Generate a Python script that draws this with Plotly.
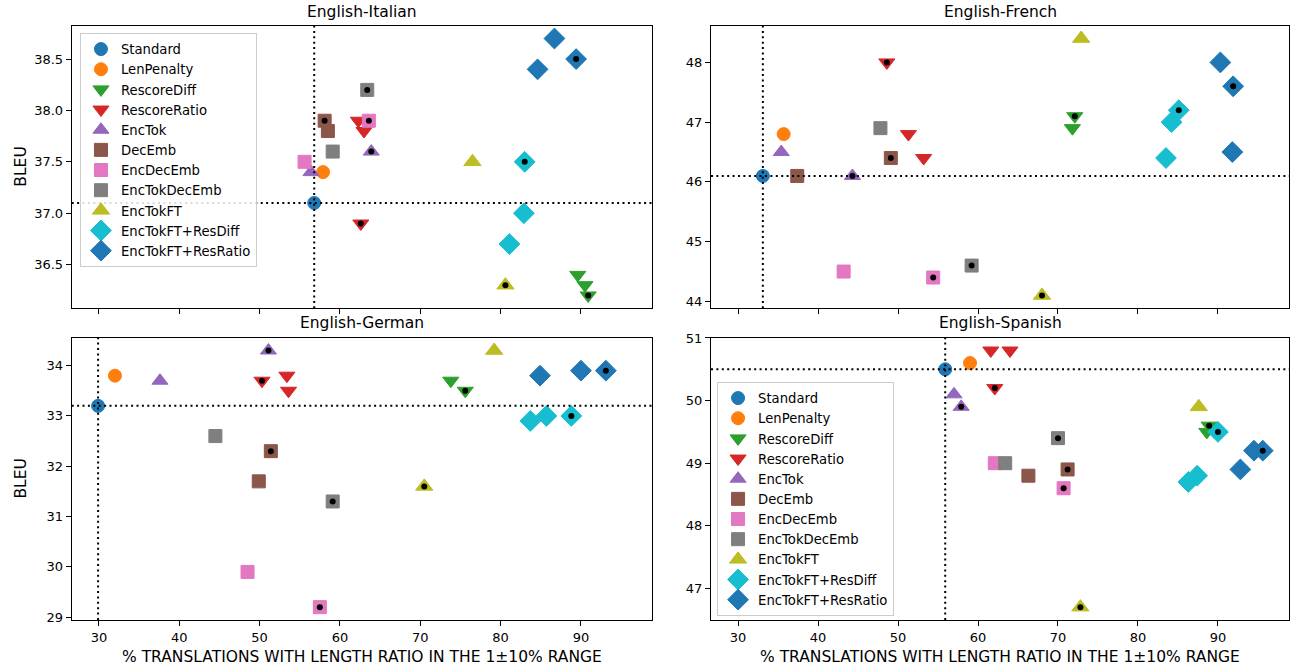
import plotly.graph_objects as go

# ---------------- data ----------------
methods = ["Standard", "LenPenalty", "RescoreDiff", "RescoreRatio", "EncTok", "DecEmb",
           "EncDecEmb", "EncTokDecEmb", "EncTokFT", "EncTokFT+ResDiff", "EncTokFT+ResRatio"]
colors = ["#1f77b4", "#ff7f0e", "#2ca02c", "#d62728", "#9467bd", "#8c564b",
          "#e377c2", "#7f7f7f", "#bcbd22", "#17becf", "#1f77b4"]
symbols = ["circle", "circle", "triangle-down", "triangle-down", "triangle-up", "square",
           "square", "square", "triangle-up", "diamond", "diamond"]

titles = ["English-Italian", "English-French", "English-German", "English-Spanish"]
x_label = "% TRANSLATIONS WITH LENGTH RATIO IN THE 1±10% RANGE"
y_label = "BLEU"
x_ticks = [30, 40, 50, 60, 70, 80, 90]

# English-Italian
it_method = ["Standard", "LenPenalty", "RescoreDiff", "RescoreDiff", "RescoreDiff",
             "RescoreRatio", "RescoreRatio", "RescoreRatio", "EncTok", "EncTok",
             "DecEmb", "DecEmb", "EncDecEmb", "EncDecEmb", "EncTokDecEmb", "EncTokDecEmb",
             "EncTokFT", "EncTokFT", "EncTokFT+ResDiff", "EncTokFT+ResDiff", "EncTokFT+ResDiff",
             "EncTokFT+ResRatio", "EncTokFT+ResRatio", "EncTokFT+ResRatio"]
it_x = [56.8, 57.9, 89.6, 90.5, 90.9, 62.3, 63.0, 62.6, 56.4, 63.9, 58.1, 58.5, 55.6, 63.6,
        59.1, 63.4, 76.5, 80.6, 83.0, 82.9, 81.1, 86.7, 89.4, 84.6]
it_y = [37.1, 37.4, 36.4, 36.3, 36.2, 37.9, 37.8, 36.9, 37.4, 37.6, 37.9, 37.8, 37.5, 37.9,
        37.6, 38.2, 37.5, 36.3, 37.5, 37.0, 36.7, 38.7, 38.5, 38.4]
it_best = [0, 0, 0, 0, 1, 0, 0, 1, 0, 1, 1, 0, 0, 1, 0, 1, 0, 1, 1, 0, 0, 0, 1, 0]

# English-French
fr_method = ["Standard", "LenPenalty", "RescoreDiff", "RescoreDiff",
             "RescoreRatio", "RescoreRatio", "RescoreRatio", "EncTok", "EncTok",
             "DecEmb", "DecEmb", "EncDecEmb", "EncDecEmb", "EncTokDecEmb", "EncTokDecEmb",
             "EncTokFT", "EncTokFT", "EncTokFT+ResDiff", "EncTokFT+ResDiff", "EncTokFT+ResDiff",
             "EncTokFT+ResRatio", "EncTokFT+ResRatio", "EncTokFT+ResRatio"]
fr_x = [33.1, 35.7, 72.1, 71.8, 48.6, 51.3, 53.2, 35.4, 44.3, 37.4, 49.1, 43.2, 54.4,
        47.8, 59.2, 72.9, 68.0, 85.1, 84.2, 83.5, 90.3, 91.9, 91.8]
fr_y = [46.1, 46.8, 47.1, 46.9, 48.0, 46.8, 46.4, 46.5, 46.1, 46.1, 46.4, 44.5, 44.4,
        46.9, 44.6, 48.4, 44.1, 47.2, 47.0, 46.4, 48.0, 47.6, 46.5]
fr_best = [0, 0, 1, 0, 1, 0, 0, 0, 1, 0, 1, 0, 1, 0, 1, 0, 1, 1, 0, 0, 0, 1, 0]

# English-German
de_method = ["Standard", "LenPenalty", "RescoreDiff", "RescoreDiff",
             "RescoreRatio", "RescoreRatio", "RescoreRatio", "EncTok", "EncTok",
             "DecEmb", "DecEmb", "EncDecEmb", "EncDecEmb", "EncTokDecEmb", "EncTokDecEmb",
             "EncTokFT", "EncTokFT", "EncTokFT+ResDiff", "EncTokFT+ResDiff", "EncTokFT+ResDiff",
             "EncTokFT+ResRatio", "EncTokFT+ResRatio", "EncTokFT+ResRatio"]
de_x = [29.9, 32.0, 73.8, 75.6, 50.3, 53.4, 53.6, 37.6, 51.1, 51.4, 49.9, 48.5, 57.5,
        44.5, 59.1, 79.2, 70.5, 83.7, 85.7, 88.8, 84.9, 90.0, 93.1]
de_y = [33.2, 33.8, 33.7, 33.5, 33.7, 33.8, 33.5, 33.7, 34.3, 32.3, 31.7, 29.9, 29.2,
        32.6, 31.3, 34.3, 31.6, 32.9, 33.0, 33.0, 33.8, 33.9, 33.9]
de_best = [0, 0, 0, 1, 1, 0, 0, 0, 1, 1, 0, 0, 1, 0, 1, 0, 1, 0, 0, 1, 0, 0, 1]

# English-Spanish
es_method = ["Standard", "LenPenalty", "RescoreDiff", "RescoreDiff",
             "RescoreRatio", "RescoreRatio", "RescoreRatio", "EncTok", "EncTok",
             "DecEmb", "DecEmb", "EncDecEmb", "EncDecEmb", "EncTokDecEmb", "EncTokDecEmb",
             "EncTokFT", "EncTokFT", "EncTokFT+ResDiff", "EncTokFT+ResDiff", "EncTokFT+ResDiff",
             "EncTokFT+ResRatio", "EncTokFT+ResRatio", "EncTokFT+ResRatio"]
es_x = [55.9, 59.0, 88.6, 88.9, 61.6, 64.0, 62.1, 57.0, 57.9, 66.3, 71.2, 62.1, 70.7,
        63.4, 70.0, 87.6, 72.8, 86.3, 87.4, 90.0, 94.5, 95.6, 92.8]
es_y = [50.5, 50.6, 49.5, 49.6, 50.8, 50.8, 50.2, 50.1, 49.9, 48.8, 48.9, 49.0, 48.6,
        49.0, 49.4, 49.9, 46.7, 48.7, 48.8, 49.5, 49.2, 49.2, 48.9]
es_best = [0, 0, 0, 1, 0, 0, 1, 0, 1, 0, 1, 0, 1, 0, 1, 0, 1, 0, 0, 1, 0, 1, 0]

# ---------------- style ----------------
sizes = {"circle": 13, "square": 13, "triangle-down": 14, "triangle-up": 14, "diamond": 16}
FONT = "DejaVu Sans"
panels = [
    (it_method, it_x, it_y, it_best, "x", "y", "legend"),
    (fr_method, fr_x, fr_y, fr_best, "x2", "y2", None),
    (de_method, de_x, de_y, de_best, "x3", "y3", None),
    (es_method, es_x, es_y, es_best, "x4", "y4", "legend2"),
]
x_dom = [[0.0555, 0.5049], [0.5503, 0.9977], [0.0555, 0.5049], [0.5503, 0.9977]]
y_dom = [[0.5364, 0.9614], [0.5364, 0.9614], [0.0677, 0.4922], [0.0677, 0.4922]]
title_y = [0.982, 0.982, 0.5143, 0.5143]


def padded(vals):
    lo, hi = min(vals), max(vals)
    p = (hi - lo) * 0.05
    return [lo - p, hi + p]


all_x = it_x + fr_x + de_x + es_x
xr = padded(all_x)

fig = go.Figure()
shapes = []
for pi, (meth, xs, ys, best, xa, ya, leg) in enumerate(panels):
    for mi, m in enumerate(methods):
        idx = [i for i, mm in enumerate(meth) if mm == m]
        sym = symbols[mi]
        sz = sizes[sym] + (1 if m == "EncTokFT" else 0)
        tr = dict(
            x=[xs[i] for i in idx], y=[ys[i] for i in idx], mode="markers", name=m,
            xaxis=xa, yaxis=ya,
            marker=dict(symbol=sym, size=sz, color=colors[mi],
                        line=dict(width=1, color=colors[mi])),
            showlegend=leg is not None, hoverinfo="x+y+name",
        )
        if leg is not None:
            tr["legend"] = leg
        fig.add_trace(go.Scatter(**tr))
    bidx = [i for i, b in enumerate(best) if b]
    fig.add_trace(go.Scatter(x=[xs[i] for i in bidx], y=[ys[i] for i in bidx], mode="markers",
                             xaxis=xa, yaxis=ya, showlegend=False,
                             marker=dict(symbol="circle", size=6, color="black"),
                             hoverinfo="skip"))
    si = meth.index("Standard")
    rx, ry = xs[si], ys[si]
    dash = dict(color="black", width=2, dash="2px,3.4px")
    shapes.append(dict(type="line", xref=xa, yref=ya + " domain", x0=rx, x1=rx, y0=0, y1=1,
                       line=dash, layer="above"))
    shapes.append(dict(type="line", xref=xa + " domain", yref=ya, x0=0, x1=1, y0=ry, y1=ry,
                       line=dash, layer="above"))

layout = dict(
    width=1292, height=665, margin=dict(l=0, r=0, t=0, b=0, autoexpand=False),
    paper_bgcolor="white", plot_bgcolor="white",
    font=dict(family=FONT, size=13, color="black"),
    shapes=shapes,
    legend=dict(x=0.0619, y=0.9504, xanchor="left", yanchor="top",
                bgcolor="rgba(255,255,255,0.85)", bordercolor="#cccccc", borderwidth=1,
                font=dict(size=13.2), tracegroupgap=0),
    legend2=dict(x=0.555, y=0.4256, xanchor="left", yanchor="top",
                 bgcolor="rgba(255,255,255,0.85)", bordercolor="#cccccc", borderwidth=1,
                 font=dict(size=13.2), tracegroupgap=0),
)
all_y = [it_y, fr_y, de_y, es_y]
ydticks = [0.5, 1, 1, 1]
yfmt = [".1f", "d", "d", "d"]
annotations = []
for pi in range(4):
    sfx = "" if pi == 0 else str(pi + 1)
    xa = dict(domain=x_dom[pi], anchor="y" + sfx, range=xr, tickmode="array", tickvals=x_ticks,
              showline=True, linecolor="black", linewidth=1, mirror=True, ticks="outside",
              ticklen=5, tickwidth=1, tickcolor="black", showgrid=False, zeroline=False,
              showticklabels=pi >= 2, tickfont=dict(size=13))
    if pi > 0:
        xa["matches"] = "x"
    ya = dict(domain=y_dom[pi], anchor="x" + sfx, range=padded(all_y[pi]), dtick=ydticks[pi],
              tickformat=yfmt[pi], showline=True, linecolor="black", linewidth=1, mirror=True,
              ticks="outside", ticklen=5, tickwidth=1, tickcolor="black", showgrid=False,
              zeroline=False, tickfont=dict(size=13))
    layout["xaxis" + sfx] = xa
    layout["yaxis" + sfx] = ya
    annotations.append(dict(text=titles[pi], xref="paper", yref="paper",
                            x=sum(x_dom[pi]) / 2, y=title_y[pi],
                            xanchor="center", yanchor="middle", showarrow=False,
                            font=dict(size=15.5)))
for pi in (2, 3):
    annotations.append(dict(text=x_label, xref="paper", yref="paper", x=sum(x_dom[pi]) / 2,
                            y=0.012, xanchor="center", yanchor="middle", showarrow=False,
                            font=dict(size=15.5)))
for pi in (0, 2):
    annotations.append(dict(text=y_label, xref="paper", yref="paper", x=0.0075,
                            y=sum(y_dom[pi]) / 2, xanchor="left", yanchor="middle",
                            textangle=-90, showarrow=False, font=dict(size=15.5)))
layout["annotations"] = annotations
fig.update_layout(**layout)
fig.write_html("out.html", config={"displayModeBar": False},
               post_script="document.body.style.margin='0';document.body.style.overflow='hidden';")
